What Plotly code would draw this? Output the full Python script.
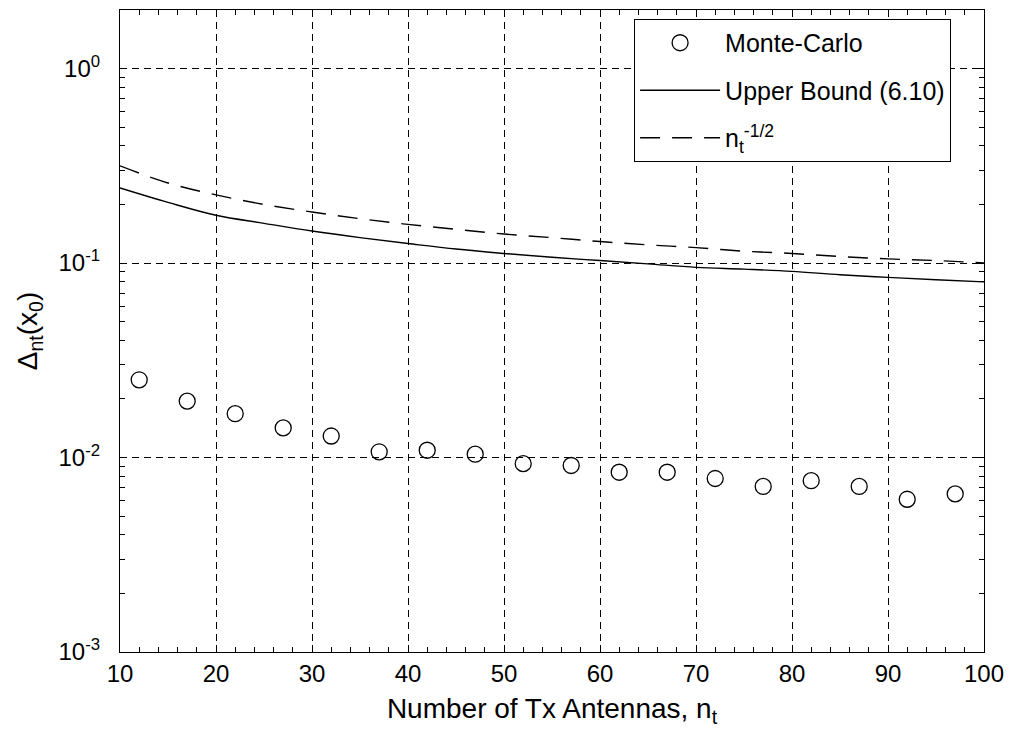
import plotly.graph_objects as go

# Monte-Carlo points
mc_x = [12, 17, 22, 27, 32, 37, 42, 47, 52, 57, 62, 67, 72, 77, 82, 87, 92, 97]
mc_y = [0.0251, 0.0195, 0.0168, 0.0142, 0.0129, 0.0107, 0.0109, 0.0104, 0.0093,
        0.0091, 0.0084, 0.0084, 0.0078, 0.0071, 0.0076, 0.0071, 0.0061, 0.0065]

# Curves (read at every 5 antennas)
curve_x = [10, 15, 20, 25, 30, 35, 40, 45, 50, 55, 60, 65, 70, 75, 80, 85, 90, 95, 100]
ub_y = [0.243, 0.205, 0.176, 0.160, 0.146, 0.135, 0.126, 0.118, 0.112, 0.107,
        0.103, 0.099, 0.095, 0.093, 0.0906, 0.087, 0.0844, 0.082, 0.080]
nt_y = [0.316, 0.258, 0.224, 0.200, 0.183, 0.169, 0.158, 0.149, 0.141, 0.135,
        0.129, 0.124, 0.120, 0.115, 0.112, 0.108, 0.105, 0.103, 0.100]

x_ticks = [10, 20, 30, 40, 50, 60, 70, 80, 90, 100]
y_ticks = [0.001, 0.01, 0.1, 1]
y_ticktext = ["10<sup>-3</sup>", "10<sup>-2</sup>", "10<sup>-1</sup>", "10<sup>0</sup>"]
y_minor = [m * 10 ** e for e in [-3, -2, -1, 0] for m in range(2, 10) if m * 10 ** e <= 2]

FONT = "Arial, Liberation Sans, sans-serif"

fig = go.Figure()
fig.add_trace(go.Scatter(
    x=mc_x, y=mc_y, mode="markers", name="Monte-Carlo", legendgroup="a",
    marker=dict(symbol="circle-open", size=16, color="black", line=dict(width=1.3, color="black")),
))
fig.add_trace(go.Scatter(
    x=curve_x, y=ub_y, mode="lines", name="Upper Bound (6.10)", legendgroup="b",
    line=dict(color="black", width=1.4, shape="spline"),
))
fig.add_trace(go.Scatter(
    x=curve_x, y=nt_y, mode="lines", name="n<sub>t</sub><sup>-1/2</sup>", legendgroup="c",
    line=dict(color="black", width=1.4, dash="20px,12px", shape="spline"),
))

fig.update_layout(
    width=1013, height=731,
    margin=dict(l=120, r=24, t=9, b=79),
    paper_bgcolor="white", plot_bgcolor="white",
    font=dict(family=FONT, size=24, color="black"),
    showlegend=True,
    legend=dict(
        x=0.595, y=0.986, xanchor="left", yanchor="top",
        bgcolor="white", bordercolor="black", borderwidth=1,
        font=dict(size=25, family=FONT), tracegroupgap=12, traceorder="grouped",
        itemwidth=80,
    ),
)

fig.update_xaxes(
    range=[10, 100], tickvals=x_ticks,
    showline=True, linecolor="black", linewidth=1.2, mirror="ticks",
    ticks="inside", ticklen=7, tickcolor="black", tickwidth=1,
    showgrid=True, gridcolor="black", gridwidth=1, griddash="7px,5px",
    minor=dict(dtick=2, ticks="inside", ticklen=5, tickcolor="black", tickwidth=1, showgrid=False),
    zeroline=False,
    tickfont=dict(size=24, family=FONT),
    title=dict(text="Number of Tx Antennas, n<sub>t</sub>", font=dict(size=28, family=FONT), standoff=12),
)
fig.update_yaxes(
    type="log", range=[-3, 0.301], tickvals=y_ticks, ticktext=y_ticktext,
    showline=True, linecolor="black", linewidth=1.2, mirror="ticks",
    ticks="inside", ticklen=7, tickcolor="black", tickwidth=1,
    showgrid=True, gridcolor="black", gridwidth=1, griddash="7px,5px",
    minor=dict(tickvals=y_minor, ticks="inside", ticklen=5, tickcolor="black", tickwidth=1, showgrid=False),
    zeroline=False,
    tickfont=dict(size=24, family=FONT),
    ticklabelstandoff=14,
    title=dict(text="Δ<sub>nt</sub>(x<sub>0</sub>)", font=dict(size=28, family=FONT), standoff=12),
)

fig.write_html("out.html")
